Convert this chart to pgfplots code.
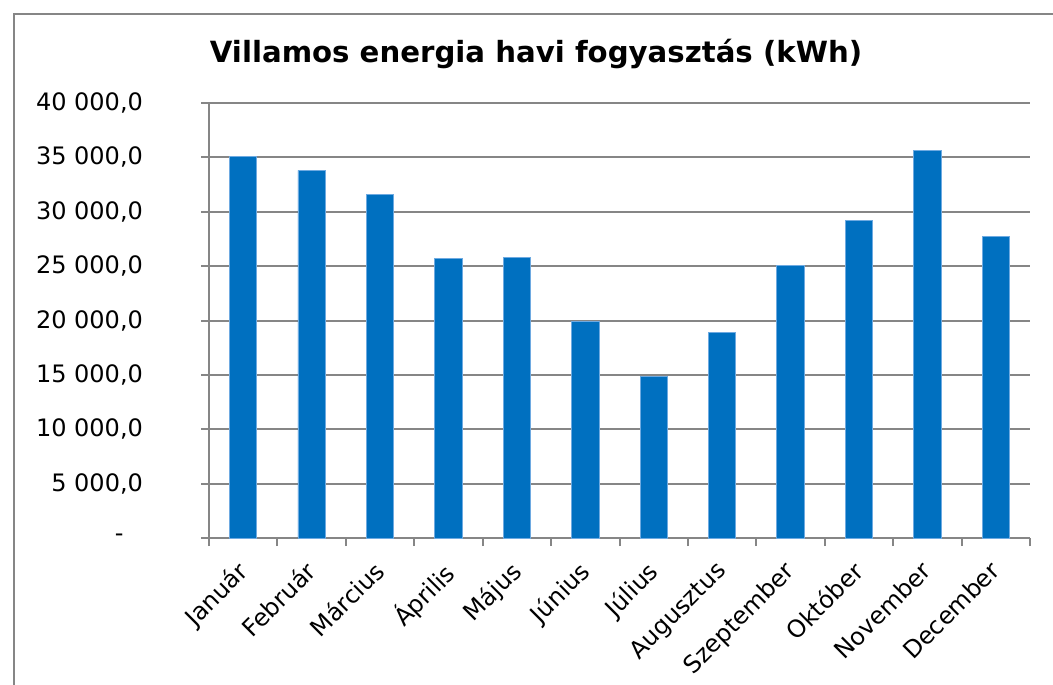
\documentclass[border=0pt]{standalone}
\usepackage{pgfplots}
\pgfplotsset{compat=1.18}
\usepackage{fontspec}
\setmainfont{DejaVu Sans}
\definecolor{barblue}{RGB}{0,112,192}
\definecolor{baredge}{RGB}{110,170,225}
\definecolor{gridgray}{RGB}{134,134,134}
\def\px{0.75pt}
\begin{document}
\begin{tikzpicture}
\useasboundingbox (0,0) rectangle (1053*\px,-685*\px);
\clip (0,0) rectangle (1053*\px,-685*\px);
\draw[gridgray, line width=1.5pt] (14*\px,-14*\px) rectangle (1120*\px,-760*\px);
\node[font=\fontsize{21.9}{25}\selectfont\bfseries] at (536*\px,-54*\px) {Villamos energia havi fogyasztás (kWh)};
\begin{axis}[
  at={(209*\px,-538*\px)}, anchor=south west,
  scale only axis, width=821*\px, height=435*\px,
  xmin=-0.5, xmax=11.5, ymin=0, ymax=40000,
  scaled y ticks=false,
  axis x line*=bottom, axis y line*=left,
  axis line style={gridgray, line width=1.5pt},
  ytick={5000,10000,...,40000},
  yticklabels={{5 000,0},{10 000,0},{15 000,0},{20 000,0},{25 000,0},{30 000,0},{35 000,0},{40 000,0}},
  extra y ticks={0},
  extra y tick labels={-},
  extra y tick style={grid=none, yticklabel style={xshift=-14.5pt}},
  ymajorgrids, grid style={gridgray, line width=1.5pt},
  xtick={0,...,11},
  xticklabels={Január,Február,Március,Április,Május,Június,Július,Augusztus,Szeptember,Október,November,December},
  minor xtick={-0.5,0.5,...,11.5},
  tick align=outside,
  major tick length=6pt,
  minor tick length=6pt,
  major y tick style={gridgray, line width=1.5pt},
  major x tick style={draw=none},
  minor x tick style={gridgray, line width=1.5pt},
  y tick label style={font=\fontsize{18}{21}\selectfont, anchor=east, xshift=-40pt},
  x tick label style={font=\fontsize{18}{21}\selectfont, xshift=-5.6pt, yshift=-5.3pt, rotate=45, anchor=north east},
  clip=false,
]
\addplot[ybar, bar width=0.4, fill=barblue, draw=baredge, line width=0.6pt, bar shift=0pt]
coordinates {(0,35120) (1,33800) (2,31600) (3,25680) (4,25770) (5,19880) (6,14870) (7,18870) (8,25040) (9,29210) (10,35610) (11,27760)};
\end{axis}
\end{tikzpicture}
\end{document}
